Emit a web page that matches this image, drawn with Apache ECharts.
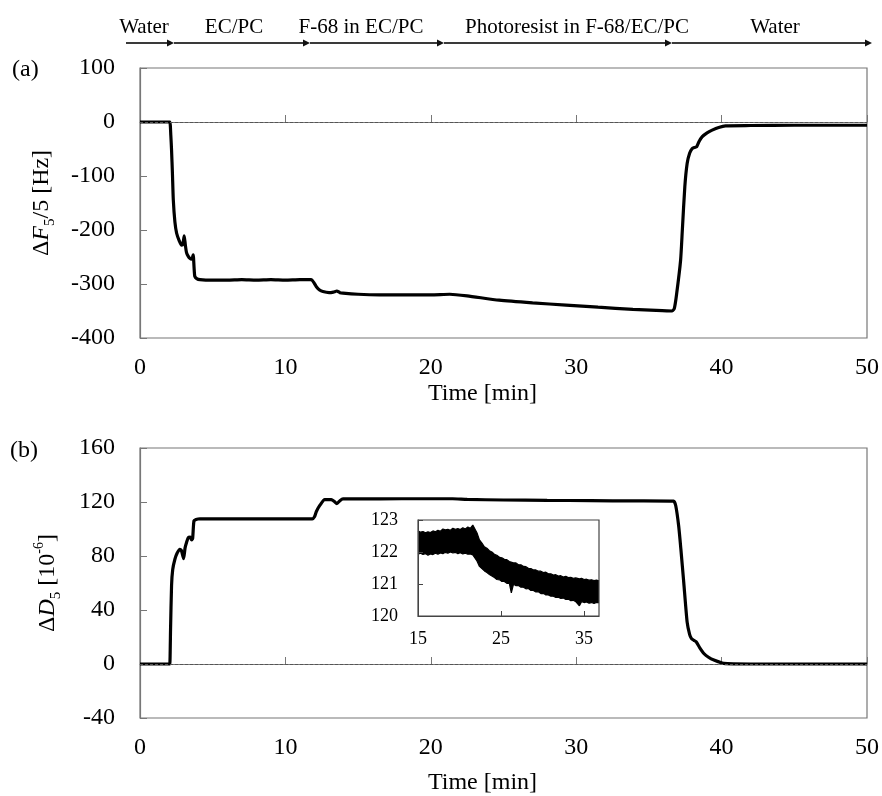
<!DOCTYPE html>
<html><head><meta charset="utf-8">
<script src="https://cdn.jsdelivr.net/npm/echarts@6/dist/echarts.min.js"></script>
<style>html,body{margin:0;padding:0;background:#fff}#c{width:882px;height:796px}</style>
</head><body><div id="c"></div>
<script>
// ---------------- data ----------------
const phaseLabels = ['Water', 'EC/PC', 'F-68 in EC/PC', 'Photoresist in F-68/EC/PC', 'Water'];

// (a) ΔF5/5 [Hz]
const aTime = [0, 1, 2.0, 2.06, 2.12, 2.17, 2.23, 2.29, 2.4, 2.52, 2.7, 2.86, 2.95, 3.04, 3.12, 3.2, 3.32, 3.45, 3.55, 3.62, 3.66, 3.72, 3.77, 3.9, 4.12, 5, 6, 7, 8, 9, 10, 11, 11.78, 11.95, 12.13, 12.35, 12.58, 13.0, 13.3, 13.54, 13.75, 13.96, 15, 16.47, 18, 20, 21.3, 22.5, 24.7, 27, 29.3, 31.5, 33.9, 35.5, 36.6, 36.75, 36.9, 37.18, 37.3, 37.47, 37.63, 37.8, 37.98, 38.15, 38.28, 38.45, 38.67, 39.0, 39.35, 39.8, 40.27, 42, 45, 48, 50];
const aVals = [0, 0, 0, 0, -25, -52, -95, -144, -185, -206, -220, -228, -226, -211, -228, -242, -249, -253, -254, -250, -246, -270, -286, -290, -292, -293, -293, -292, -293, -292, -293, -292, -292, -297, -305, -311, -314, -316, -315, -313, -316, -317, -319, -320, -320, -320, -319, -322, -330, -335, -339, -343, -347, -349, -350, -345, -320, -256, -200, -120, -77, -58, -49, -47, -46, -36, -27, -20, -15, -10, -7, -6.5, -6, -6, -6];

// (b) ΔD5 [10^-6]
const bTime = [0, 1, 2.0, 2.05, 2.1, 2.17, 2.25, 2.4, 2.55, 2.74, 2.85, 3.0, 3.1, 3.2, 3.32, 3.45, 3.55, 3.62, 3.71, 3.85, 4.12, 5, 6, 7, 8, 9, 10, 11, 11.85, 12.0, 12.13, 12.4, 12.7, 13.16, 13.35, 13.54, 13.75, 13.96, 15, 18, 21.5, 22.5, 25, 28, 31, 34, 36.7, 36.85, 37.05, 37.2, 37.4, 37.63, 37.8, 37.93, 38.1, 38.25, 38.5, 38.78, 39.1, 39.47, 40.15, 42, 45, 48, 50];
const bVals = [0, 0, 0, 0, 25, 58, 70, 77.6, 82, 85, 84, 78, 86, 90, 93.6, 94, 92, 93, 106, 107, 107.6, 107.5, 107.5, 107.6, 107.5, 107.5, 107.6, 107.5, 107.5, 109, 113, 118, 121.8, 121.8, 120.5, 118.8, 121, 122.3, 122.3, 122.4, 122.4, 121.9, 121.5, 121.2, 121.0, 120.8, 120.6, 117, 102, 85, 60, 31, 22, 18.8, 17.5, 16.4, 12, 7.8, 5, 2.9, 0.4, 0, 0, 0, 0];

// inset: noisy band of ΔD5, read as upper / lower envelope
const insetTime = [
  15.0, 15.3, 15.6, 15.9, 16.2, 16.5, 16.8, 17.1, 17.4, 17.7,
  18.0, 18.3, 18.6, 18.9, 19.2, 19.5, 19.8, 20.1, 20.4, 20.7,
  21.0, 21.3, 21.6, 21.84, 22.1, 22.4, 22.7, 23.0, 23.3, 23.6,
  23.9, 24.2, 24.5, 24.84, 25.1, 25.4, 25.7, 26.0, 26.24, 26.5,
  26.8, 27.1, 27.4, 27.7, 28.0, 28.3, 28.6, 28.9, 29.2, 29.5,
  29.8, 30.1, 30.4, 30.7, 31.0, 31.3, 31.6, 31.9, 32.2, 32.5,
  32.8, 33.1, 33.4, 33.7, 34.0, 34.44, 34.7, 35.0, 35.3, 35.6,
  35.9, 36.2, 36.5, 36.8];
const insetUpper = [
  122.66, 122.62, 122.64, 122.6, 122.63, 122.61, 122.66, 122.63, 122.68, 122.65,
  122.72, 122.69, 122.71, 122.68, 122.74, 122.71, 122.73, 122.7, 122.76, 122.72,
  122.78, 122.74, 122.84, 122.78, 122.6, 122.38, 122.28, 122.16, 122.12, 122.04,
  122.0, 121.93, 121.9, 121.83, 121.82, 121.77, 121.76, 121.7, 121.7, 121.66,
  121.66, 121.6, 121.6, 121.55, 121.54, 121.49, 121.48, 121.44, 121.44, 121.4,
  121.4, 121.36, 121.37, 121.32, 121.32, 121.28, 121.29, 121.25, 121.26, 121.22,
  121.24, 121.2, 121.21, 121.18, 121.19, 121.16, 121.18, 121.14, 121.15, 121.12,
  121.13, 121.11, 121.12, 121.1];
const insetLower = [
  121.93, 121.96, 121.92, 121.95, 121.9, 121.94, 121.92, 121.96, 121.93, 121.97,
  121.95, 121.99, 121.96, 122.0, 121.97, 121.99, 121.95, 121.98, 121.94, 121.96,
  121.93, 121.94, 121.91, 121.88, 121.72, 121.55, 121.48, 121.41, 121.36, 121.3,
  121.25, 121.2, 121.14, 121.13, 121.08, 121.08, 121.02, 121.02, 120.72, 120.99,
  120.95, 120.95, 120.9, 120.9, 120.85, 120.86, 120.8, 120.8, 120.75, 120.76,
  120.7, 120.71, 120.66, 120.66, 120.62, 120.62, 120.58, 120.59, 120.55, 120.56,
  120.52, 120.53, 120.48, 120.49, 120.45, 120.32, 120.45, 120.42, 120.44, 120.4,
  120.42, 120.39, 120.42, 120.42];

// ---------------- layout / style ----------------
const FONT = '"Liberation Serif", "Times New Roman", serif';
const AX = '#777';
const zip = (xs, ys) => xs.map((x, i) => [x, ys[i]]);

const chart = echarts.init(document.getElementById('c'), null, { renderer: 'canvas' });

function mainX(idx, gap) {
  return {
    type: 'value', gridIndex: idx, min: 0, max: 50, interval: 10,
    name: 'Time [min]', nameLocation: 'middle', nameGap: gap,
    nameTextStyle: { fontFamily: FONT, fontSize: 24, color: '#000', padding: [0, 42, 0, 0] },
    axisLine: { lineStyle: { color: AX, width: 1.2 } },
    axisTick: { inside: true, length: 7, lineStyle: { color: AX } },
    axisLabel: { fontFamily: FONT, fontSize: 24, color: '#000', margin: 18 },
    splitLine: { show: false }
  };
}
const richBase = {
  d: { fontFamily: FONT, fontSize: 24, color: '#000', lineHeight: 26, verticalAlign: 'middle' },
  i: { fontFamily: FONT, fontSize: 24, color: '#000', fontStyle: 'italic', lineHeight: 26, verticalAlign: 'middle' },
  s: { fontFamily: FONT, fontSize: 15, color: '#000', lineHeight: 32, verticalAlign: 'bottom' },
  p: { fontFamily: FONT, fontSize: 14, color: '#000', lineHeight: 14, verticalAlign: 'top' }
};
function mainY(idx, min, max, interval, name, gap) {
  return {
    type: 'value', gridIndex: idx, min, max, interval,
    name, nameLocation: 'middle', nameGap: gap,
    nameTextStyle: { rich: richBase },
    axisLine: { show: true, lineStyle: { color: AX, width: 1.2 } },
    axisTick: { show: true, inside: true, length: 7, lineStyle: { color: AX } },
    axisLabel: { fontFamily: FONT, fontSize: 24, color: '#000', margin: 25 },
    splitLine: { show: false }
  };
}

// top phase arrows (annotation layout in pixels)
const arrowY = 43;
const arrowSegs = [[126, 174], [174, 310], [310, 444], [444, 672], [672, 872]];
const labelX = [144, 234, 361, 577, 775];
const graphic = [];
arrowSegs.forEach(([x0, x1]) => {
  graphic.push({ type: 'line', shape: { x1: x0, y1: arrowY, x2: x1 - 4, y2: arrowY }, style: { stroke: '#3a3a3a', lineWidth: 1.8 } });
  graphic.push({ type: 'polygon', shape: { points: [[x1, arrowY], [x1 - 7, arrowY - 3.5], [x1 - 7, arrowY + 3.5]] }, style: { fill: '#111' } });
});
phaseLabels.forEach((t, i) => {
  graphic.push({ type: 'text', x: labelX[i], y: 27, style: { text: t, font: '21px ' + FONT, fill: '#000', align: 'center', verticalAlign: 'middle' } });
});
graphic.push({ type: 'text', x: 12, y: 70, style: { text: '(a)', font: '24px ' + FONT, fill: '#000', align: 'left', verticalAlign: 'middle' } });
graphic.push({ type: 'text', x: 10, y: 451, style: { text: '(b)', font: '24px ' + FONT, fill: '#000', align: 'left', verticalAlign: 'middle' } });

const zeroLine = {
  silent: true, symbol: 'none', label: { show: false },
  lineStyle: { type: [3, 2], color: '#555', width: 1 },
  data: [{ yAxis: 0 }]
};

const option = {
  animation: false,
  backgroundColor: '#fff',
  grid: [
    { left: 140, top: 68, width: 728, height: 270, show: true, borderColor: AX, borderWidth: 1.2 },
    { left: 140, top: 448, width: 728, height: 272, show: true, borderColor: AX, borderWidth: 1.2 },
    { left: 418, top: 520, width: 181, height: 96, show: true, borderColor: '#444', borderWidth: 1.2, backgroundColor: 'transparent', z: 10 }
  ],
  xAxis: [
    mainX(0, 44), mainX(1, 53),
    {
      type: 'value', gridIndex: 2, min: 15, max: 36.8, interval: 10, z: 10,
      axisLine: { lineStyle: { color: '#444' } },
      axisTick: { inside: true, length: 5, lineStyle: { color: '#444' } },
      axisLabel: { fontFamily: FONT, fontSize: 18, color: '#000', margin: 14, showMaxLabel: false },
      splitLine: { show: false }
    }
  ],
  yAxis: [
    mainY(0, -400, 100, 100, '{d|Δ}{i|F}{s|5}{d|/5 [Hz]}', 82),
    mainY(1, -40, 160, 40, '{d|Δ}{i|D}{s|5}{d| [10}{p|-6}{d|]}', 76),
    {
      type: 'value', gridIndex: 2, min: 120, max: 123, interval: 1, z: 10,
      axisLine: { show: true, lineStyle: { color: '#444' } },
      axisTick: { show: true, inside: true, length: 5, lineStyle: { color: '#444' } },
      axisLabel: { fontFamily: FONT, fontSize: 18, color: '#000', margin: 20 },
      splitLine: { show: false }
    }
  ],
  graphic,
  series: [
    {
      type: 'line', xAxisIndex: 0, yAxisIndex: 0, data: zip(aTime, aVals),
      symbol: 'none', smooth: 0.2, lineStyle: { color: '#000', width: 3.2 }, z: 3,
      markLine: zeroLine
    },
    {
      type: 'line', xAxisIndex: 1, yAxisIndex: 1, data: zip(bTime, bVals),
      symbol: 'none', smooth: 0.2, lineStyle: { color: '#000', width: 3.2 }, z: 3,
      markLine: zeroLine
    },
    {
      // upper envelope, filled black down to the axis
      type: 'line', xAxisIndex: 2, yAxisIndex: 2,
      data: zip(insetTime, insetUpper), symbol: 'none',
      lineStyle: { color: '#000', width: 1.2 },
      areaStyle: { color: '#000', opacity: 1, origin: 'start' }, z: 4
    },
    {
      // lower envelope, white fill below it leaves the black band
      type: 'line', xAxisIndex: 2, yAxisIndex: 2,
      data: zip(insetTime, insetLower), symbol: 'none',
      lineStyle: { color: '#000', width: 1.2 },
      areaStyle: { color: '#fff', opacity: 1, origin: 'start' }, z: 5
    }
  ]
};
chart.setOption(option);
</script></body></html>
